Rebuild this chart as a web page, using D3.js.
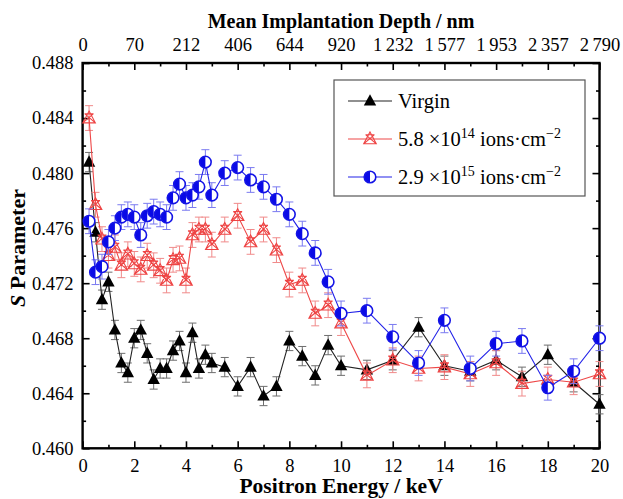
<!DOCTYPE html>
<html><head><meta charset="utf-8">
<script src="https://cdn.jsdelivr.net/npm/d3@7"></script>
<style>
html,body{margin:0;padding:0;background:#fff;}
svg{display:block;}
</style></head>
<body><svg id="c" width="623" height="499" font-family="Liberation Serif"></svg>
<script>
// ---------- data ----------
const energy = [0.25,0.5,0.75,1,1.25,1.5,1.75,2,2.25,2.5,2.75,3,3.25,3.5,3.75,4,4.25,4.5,4.75,5,
  5.5,6,6.5,7,7.5,8,8.5,9,9.5,10,11,12,13,14,15,16,17,18,19,20];
const sVirgin = [0.4808,0.4757,0.4708,0.4721,0.4686,0.4662,0.4655,0.4680,0.4686,0.4669,0.4650,0.4658,0.4658,0.4671,0.4678,0.4655,0.4684,0.4658,0.4668,0.4662,
  0.4659,0.4645,0.4659,0.4638,0.4645,0.4678,0.4667,0.4653,0.4675,0.4660,0.4657,0.4664,0.4688,0.4660,0.4656,0.4664,0.4652,0.4668,0.4648,0.4632];
const sLow = [0.4840,0.4777,0.4752,0.4740,0.4746,0.4733,0.4741,0.4734,0.4730,0.4740,0.4733,0.4729,0.4722,0.4737,0.4738,0.4722,0.4755,0.4759,0.4759,0.4748,
  0.4759,0.4769,0.4750,0.4759,0.4744,0.4719,0.4722,0.4698,0.4704,0.4691,0.4653,0.4664,0.4658,0.4659,0.4654,0.4662,0.4647,0.4650,0.4648,0.4654];
const sHigh = [0.4765,0.4728,0.4732,0.4750,0.4760,0.4768,0.4770,0.4768,0.4755,0.4769,0.4772,0.4770,0.4768,0.4782,0.4792,0.4782,0.4784,0.4790,0.4808,0.4784,
  0.4800,0.4804,0.4795,0.4790,0.4781,0.4770,0.4756,0.4742,0.4721,0.4698,0.4700,0.4681,0.4662,0.4693,0.4658,0.4676,0.4678,0.4644,0.4656,0.4680];
const errVirgin = 0.0007, errLow = 0.0009, errHigh = 0.0009;
const xTicks = [0,2,4,6,8,10,12,14,16,18,20];
const depthLabels = ["0","70","212","406","644","920","1\u2009232","1\u2009577","1\u2009953","2\u2009357","2\u2009790"];
const yTicks = [0.460,0.464,0.468,0.472,0.476,0.480,0.484,0.488];

// ---------- layout ----------
const FONT = "Liberation Serif";
const L = 82.6, R = 599.5, T = 63, B = 448.3;
const svg = d3.select("#c");
const x = d3.scaleLinear().domain([0,20]).range([L,R]);
const y = d3.scaleLinear().domain([0.460,0.488]).range([B,T]);

const minorX = d3.range(1,20,2);
const minorY = d3.range(0.462,0.488,0.004);

function styleAxis(g){ g.attr("font-family",FONT); g.select(".domain").remove();
  g.selectAll("line").attr("stroke","#000").attr("stroke-width",1.6);
  g.selectAll("text").attr("font-size",18.5).attr("fill","#000"); }

svg.append("g").attr("transform",`translate(0,${B})`)
  .call(d3.axisBottom(x).tickValues(xTicks).tickFormat(d3.format("d")).tickSize(-7).tickPadding(10.5)).call(styleAxis);
svg.append("g").attr("transform",`translate(0,${B})`)
  .call(d3.axisBottom(x).tickValues(minorX).tickFormat("").tickSize(-3.5)).call(styleAxis);
svg.append("g").attr("transform",`translate(0,${T})`)
  .call(d3.axisTop(x).tickValues(xTicks).tickFormat((d,i)=>depthLabels[i]).tickSize(-7).tickPadding(12.5)).call(styleAxis);
svg.append("g").attr("transform",`translate(0,${T})`)
  .call(d3.axisTop(x).tickValues(minorX).tickFormat("").tickSize(-3.5)).call(styleAxis);
svg.append("g").attr("transform",`translate(${L},0)`)
  .call(d3.axisLeft(y).tickValues(yTicks).tickFormat(d3.format(".3f")).tickSize(-7).tickPadding(9)).call(styleAxis);
svg.append("g").attr("transform",`translate(${L},0)`)
  .call(d3.axisLeft(y).tickValues(minorY).tickFormat("").tickSize(-3.5)).call(styleAxis);
svg.append("g").attr("transform",`translate(${R},0)`)
  .call(d3.axisRight(y).tickValues(yTicks).tickFormat("").tickSize(-7)).call(styleAxis);
svg.append("g").attr("transform",`translate(${R},0)`)
  .call(d3.axisRight(y).tickValues(minorY).tickFormat("").tickSize(-3.5)).call(styleAxis);

svg.append("rect").attr("x",L).attr("y",T).attr("width",R-L).attr("height",B-T)
  .attr("fill","none").attr("stroke","#000").attr("stroke-width",2.4);

svg.append("text").attr("x",(L+R)/2).attr("y",27.5).attr("text-anchor","middle")
  .attr("font-size",20).attr("font-weight","bold").text("Mean Implantation Depth / nm");
svg.append("text").attr("x",(L+R)/2).attr("y",493).attr("text-anchor","middle")
  .attr("font-size",21.5).attr("font-weight","bold").text("Positron Energy / keV");
const yt = svg.append("text").attr("transform",`translate(25,248) rotate(-90)`)
  .attr("text-anchor","middle").attr("font-size",22).attr("font-weight","bold");
yt.append("tspan").attr("font-style","italic").text("S");
yt.append("tspan").text(" Parameter");

// ---------- markers ----------
const triPath = "M0,-6.8L6.2,4.6L-6.2,4.6Z";
const crossTriPath = "M0,-7L6.3,4.8L-6.3,4.8Z M-6.3,4.8L4.2,-4.2 M6.3,4.8L-4.2,-4.2 M-4.5,-4.2L4.5,-4.2";
function drawTri(g,cx,cy){ g.append("path").attr("d",triPath).attr("transform",`translate(${cx},${cy})`).attr("fill","#000"); }
function drawCrossTri(g,cx,cy){ g.append("path").attr("d",crossTriPath).attr("transform",`translate(${cx},${cy})`)
  .attr("fill","none").attr("stroke","#ee4444").attr("stroke-width",1.1); }
function drawHalf(g,cx,cy){
  const m = g.append("g").attr("transform",`translate(${cx},${cy})`);
  m.append("circle").attr("r",5.8).attr("fill","#fff");
  m.append("path").attr("d","M0,-5.8A5.8,5.8 0 0 0 0,5.8Z").attr("fill","#0a0ae6");
  m.append("circle").attr("r",5.8).attr("fill","none").attr("stroke","#1414e6").attr("stroke-width",1.6);
}

const seriesList = [
  {vals:sVirgin, err:errVirgin, line:"#222", ebar:"#6e6e6e", draw:drawTri},
  {vals:sLow, err:errLow, line:"#ee4848", ebar:"#f08a8a", draw:drawCrossTri},
  {vals:sHigh, err:errHigh, line:"#2222e8", ebar:"#7a7af0", draw:drawHalf}
];
const plot = svg.append("g");
const lineGen = d3.line().x(d=>x(d[0])).y(d=>y(d[1]));
seriesList.forEach(s=>{
  const g = plot.append("g");
  const pts = energy.map((e,i)=>[e,s.vals[i]]);
  pts.forEach(p=>{
    const cx=x(p[0]), y1=y(p[1]+s.err), y2=y(p[1]-s.err);
    g.append("line").attr("x1",cx).attr("x2",cx).attr("y1",y1).attr("y2",y2).attr("stroke",s.ebar).attr("stroke-width",1);
    [y1,y2].forEach(yy=>g.append("line").attr("x1",cx-4).attr("x2",cx+4).attr("y1",yy).attr("y2",yy).attr("stroke",s.ebar).attr("stroke-width",1));
  });
  g.append("path").attr("d",lineGen(pts)).attr("fill","none").attr("stroke",s.line).attr("stroke-width",1.1);
  pts.forEach(p=>s.draw(g,x(p[0]),y(p[1])));
});

// ---------- legend ----------
const lg = svg.append("g");
lg.append("rect").attr("x",334).attr("y",80).attr("width",251).attr("height",116)
  .attr("fill","#fff").attr("stroke","#555").attr("stroke-width",1.2);
const legRows = [
  {y:101, s:seriesList[0], parts:[["Virgin",null]]},
  {y:139, s:seriesList[1], parts:[["5.8 \u00d710",null],["14","sup"],[" ions\u00b7cm",null],["\u22122","sup"]]},
  {y:177, s:seriesList[2], parts:[["2.9 \u00d710",null],["15","sup"],[" ions\u00b7cm",null],["\u22122","sup"]]}
];
legRows.forEach(r=>{
  lg.append("line").attr("x1",348).attr("x2",392).attr("y1",r.y).attr("y2",r.y).attr("stroke",r.s.line).attr("stroke-width",1.1);
  r.s.draw(lg,370,r.y);
  const t = lg.append("text").attr("x",398).attr("y",r.y+7).attr("font-size",20.5);
  r.parts.forEach(p=>{
    const ts = t.append("tspan").text(p[0]);
    if(p[1]==="sup"){ ts.attr("font-size",14).attr("dy",-8); }
    else if(t.selectAll("tspan").size()>1){ ts.attr("dy",8); }
  });
});
</script></body></html>
